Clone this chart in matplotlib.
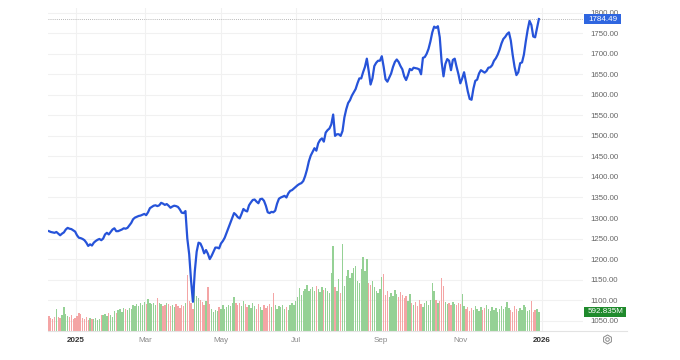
import matplotlib
matplotlib.use('Agg')
import matplotlib.pyplot as plt
from matplotlib.transforms import blended_transform_factory
from matplotlib.patches import Rectangle
from matplotlib.lines import Line2D

plt.rcParams['font.family'] = ['Liberation Sans', 'DejaVu Sans']

# ---- data (one value per trading day, Dec 2024 .. Dec 31 2025) ----
close = [
    1268, 1266, 1265, 1264, 1266, 1262, 1258, 1262, 1265, 1272,
    1276, 1274, 1273, 1270, 1267, 1258, 1252, 1251, 1249, 1246,
    1240, 1232, 1236, 1233, 1240, 1244, 1247, 1249, 1246, 1250,
    1260, 1264, 1260, 1266, 1272, 1275, 1268, 1268, 1270, 1272,
    1275, 1274, 1276, 1282, 1288, 1297, 1301, 1303, 1305, 1306,
    1308, 1310, 1307, 1314, 1324, 1327, 1330, 1331, 1329, 1331,
    1337, 1335, 1332, 1334, 1330, 1325, 1328, 1330, 1329, 1327,
    1321, 1313, 1312, 1317, 1250, 1212, 1148, 1096, 1170, 1218,
    1240, 1238, 1228, 1214, 1222, 1213, 1200, 1208, 1218, 1228,
    1228, 1226, 1238, 1244, 1252, 1264, 1276, 1288, 1300, 1312,
    1308, 1302, 1299, 1310, 1322, 1318, 1316, 1331, 1338, 1344,
    1345, 1340, 1336, 1346, 1347, 1342, 1330, 1314, 1312, 1315,
    1314, 1318, 1335, 1347, 1350, 1352, 1354, 1350, 1360, 1366,
    1368, 1372, 1376, 1380, 1383, 1385, 1390, 1402, 1418, 1438,
    1452, 1461, 1470, 1464, 1482, 1490, 1494, 1486, 1508, 1514,
    1518, 1528, 1552, 1500, 1504, 1504, 1500, 1512, 1545, 1565,
    1580, 1587, 1598, 1606, 1614, 1628, 1640, 1640, 1655, 1668,
    1688, 1658, 1625, 1640, 1670, 1678, 1683, 1683, 1694, 1668,
    1638, 1632, 1642, 1652, 1668, 1680, 1686, 1680, 1670, 1662,
    1645, 1636, 1648, 1663, 1660, 1666, 1665, 1664, 1662, 1650,
    1690, 1692, 1700, 1712, 1730, 1752, 1766, 1763, 1767, 1740,
    1680, 1645, 1675, 1687, 1683, 1660, 1685, 1688, 1668, 1650,
    1628, 1640, 1655, 1632, 1608, 1590, 1588, 1615, 1634, 1637,
    1652, 1660, 1657, 1654, 1658, 1666, 1667, 1672, 1683, 1689,
    1698, 1710, 1725, 1736, 1741, 1748, 1752, 1732, 1697, 1668,
    1648, 1655, 1677, 1679, 1698, 1730, 1758, 1780, 1770, 1742,
    1740, 1762, 1784.49,
]

volume_m = [
    470, 410, 370, 440, 690, 440, 410, 500, 750, 530,
    470, 440, 500, 370, 410, 470, 560, 530, 410, 370,
    440, 340, 410, 370, 370, 410, 340, 370, 500, 500,
    530, 470, 560, 500, 440, 620, 560, 660, 690, 590,
    720, 690, 660, 720, 690, 810, 780, 840, 780, 870,
    810, 900, 840, 1000, 870, 840, 870, 810, 1030, 870,
    840, 780, 810, 870, 840, 780, 810, 750, 840, 780,
    720, 810, 780, 870, 1750, 940, 870, 690, 1720, 1090,
    1030, 970, 900, 810, 940, 1370, 840, 690, 590, 660,
    620, 750, 690, 810, 690, 750, 810, 780, 870, 1060,
    870, 810, 870, 780, 940, 840, 750, 810, 720, 870,
    780, 690, 840, 750, 660, 810, 720, 780, 840, 750,
    1190, 810, 690, 780, 750, 810, 690, 750, 660, 810,
    870, 810, 940, 1060, 1340, 1120, 1250, 1310, 1440, 1250,
    1310, 1370, 1250, 1400, 1310, 1220, 1370, 1280, 1340, 1250,
    1190, 1810, 2650, 1370, 1250, 1620, 1190, 2710, 1400, 1720,
    1900, 1650, 1810, 1970, 2030, 1560, 1500, 1930, 2310, 1870,
    2250, 1500, 1440, 1560, 1370, 1250, 1190, 1310, 1680, 1780,
    1120, 1250, 1060, 1190, 1090, 1280, 1150, 1060, 1220, 1120,
    1030, 1090, 940, 1150, 870, 810, 900, 780, 970, 840,
    750, 870, 940, 810, 970, 1500, 1250, 970, 870, 940,
    1650, 1400, 900, 840, 870, 810, 900, 840, 810, 870,
    840, 1150, 780, 690, 750, 620, 720, 660, 780, 690,
    620, 750, 660, 720, 810, 690, 620, 750, 660, 720,
    590, 690, 780, 690, 750, 900, 720, 660, 590, 780,
    690, 620, 720, 660, 810, 750, 620, 660, 940, 590,
    660, 690, 592.835,
]

month_labels = ['2025', 'Mar', 'May', 'Jul', 'Sep', 'Nov', '2026']
month_index = [14.4, 51.3, 92.0, 132.1, 177.5, 220.3, 263.6]
year_labels = {'2025', '2026'}
price_ticks = [1050, 1100, 1150, 1200, 1250, 1300, 1350, 1400, 1450,
               1500, 1550, 1600, 1650, 1700, 1750, 1800]

# ---- style ----
LINE = '#2653d9'
UP = '#95d195'
DOWN = '#f4a5a5'
GRID = '#f1f1f1'

W, H = 680, 360
fig = plt.figure(figsize=(W / 100, H / 100), dpi=100)
left, right, bottom, top = 48, 583, 331, 8
axv = fig.add_axes([left / W, 1 - bottom / H, (right - left) / W, (bottom - top) / H])
ax = axv.twinx()

n = len(close)
idx = list(range(n))
colors = [UP if (i > 0 and close[i] >= close[i - 1]) else DOWN for i in idx]

# volume bars (bottom axes)
axv.bar(idx, volume_m, width=0.72, color=colors, linewidth=0, zorder=2)
axv.set_ylim(0, 10078)
axv.set_xlim(-0.5, 285.6)
axv.set_yticks([])

# price axis
ax.set_ylim(1024.9, 1811.4)
ax.set_yticks(price_ticks)
ax.set_yticklabels([f'{v:.2f}' for v in price_ticks])
ax.tick_params(axis='y', length=0, pad=5, labelsize=5.7, labelcolor='#666666')

# horizontal gridlines under bars
tr_h = blended_transform_factory(axv.transAxes, ax.transData)
for v in price_ticks:
    axv.plot([0, 1], [v, v], transform=tr_h, color=GRID, lw=0.8, zorder=0)

# vertical gridlines + month labels
axv.set_xticks(month_index)
axv.set_xticklabels(month_labels)
axv.tick_params(axis='x', length=0, pad=4, labelsize=5.8, labelcolor='#8a8a8a')
for lab in axv.get_xticklabels():
    if lab.get_text() in year_labels:
        lab.set_fontweight('bold')
        lab.set_color('#333333')
for xi in month_index:
    axv.axvline(xi, color=GRID, lw=0.8, zorder=0)

for a in (ax, axv):
    for s in a.spines.values():
        s.set_visible(False)

# price line
ax.plot(idx, close, color=LINE, lw=1.6, solid_joinstyle='round', zorder=3)

# last price dotted line
last_price = close[-1]
ax.axhline(last_price, color='#a0a0a0', lw=0.6, ls=(0, (1, 1.5)), zorder=1)

# last price label box
tr_p = blended_transform_factory(ax.transAxes, ax.transData)
bw = 37 / (right - left)
bh = 10.6 / ((bottom - top) / (1811.4 - 1024.9))
ax.add_patch(Rectangle((1.002, last_price - bh / 2), bw, bh, transform=tr_p,
                       facecolor='#2f66e0', edgecolor='none', clip_on=False, zorder=6))
ax.text(1.002 + bw / 2, last_price, f'{last_price:.2f}', transform=tr_p, ha='center',
        va='center', color='white', fontsize=5.8, zorder=7, clip_on=False)

# last volume label box
last_vol = volume_m[-1]
tr_v = blended_transform_factory(axv.transAxes, axv.transData)
vw = 42 / (right - left)
vh = 9.4 * 10078 / (bottom - top)
ax.add_patch(Rectangle((1.002, 0), vw, 1, transform=tr_v, facecolor='none', edgecolor='none'))
axv.add_patch(Rectangle((1.002, last_vol - vh / 2), vw, vh, transform=tr_v,
                        facecolor='#1f8a2c', edgecolor='none', clip_on=False, zorder=6))
axv.text(1.002 + vw / 2, last_vol, f'{last_vol:.3f}M', transform=tr_v, ha='center',
         va='center', color='white', fontsize=5.8, zorder=7, clip_on=False)

# bottom rule extending under the axis labels
fig.add_artist(Line2D([left / W, 627 / W], [1 - bottom / H, 1 - bottom / H],
                      color='#e3e3e3', lw=0.8))
# settings icon
fig.add_artist(Line2D([607 / W], [1 - 339 / H], marker='h', markersize=6.5,
                      markerfacecolor='none', markeredgecolor='#8a8a8a', markeredgewidth=0.7))
fig.add_artist(Line2D([607 / W], [1 - 339 / H], marker='o', markersize=2.6,
                      markerfacecolor='none', markeredgecolor='#8a8a8a', markeredgewidth=0.7))

fig.savefig('out.png', dpi=100, facecolor='white')
